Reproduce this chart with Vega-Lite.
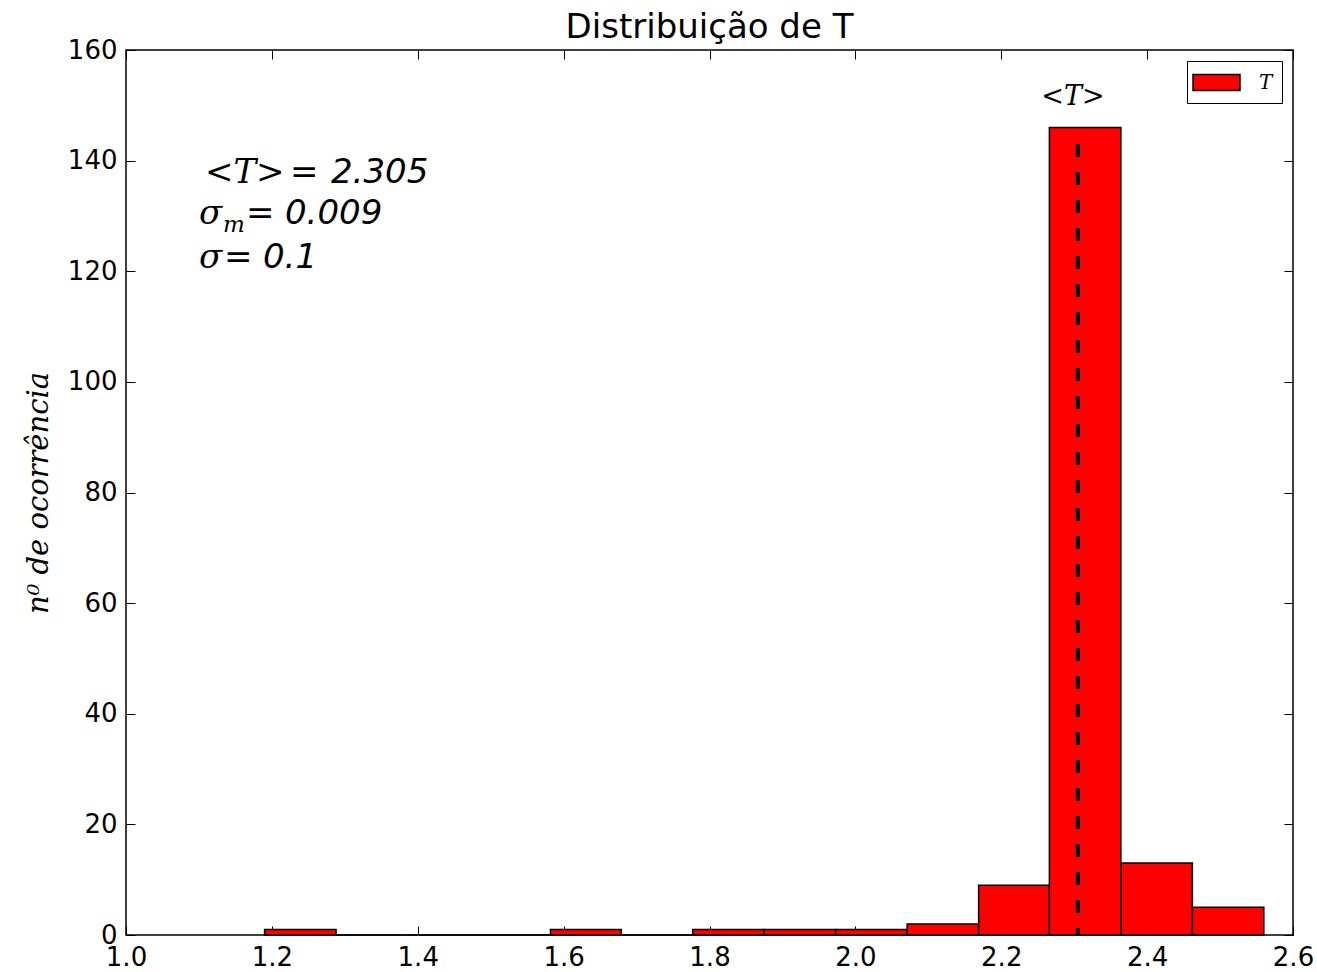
{
  "$schema": "https://vega.github.io/schema/vega-lite/v6.json",
  "width": 1167,
  "height": 885,
  "autosize": "none",
  "padding": {"left": 126, "top": 50, "right": 24, "bottom": 37},
  "background": "white",
  "title": {"text": "Distribuição de T", "font": "DejaVu Sans", "fontSize": 34, "fontWeight": "normal", "color": "black", "offset": 10, "dy": 18, "anchor": "middle"},
  "config": {
    "view": {"stroke": "black", "strokeWidth": 1.5},
    "axis": {"domain": false, "grid": false, "ticks": true, "tickColor": "black", "tickWidth": 1, "tickSize": -9, "labelFont": "DejaVu Sans", "labelFontSize": 26, "labelColor": "black", "zindex": 1, "labelPadding": 18, "labelFlush": false}
  },
  "datasets": {
    "bins": [
      {"bin_start": 1.190, "bin_end": 1.288, "count": 1},
      {"bin_start": 1.288, "bin_end": 1.386, "count": 0},
      {"bin_start": 1.386, "bin_end": 1.484, "count": 0},
      {"bin_start": 1.484, "bin_end": 1.582, "count": 0},
      {"bin_start": 1.582, "bin_end": 1.679, "count": 1},
      {"bin_start": 1.679, "bin_end": 1.777, "count": 0},
      {"bin_start": 1.777, "bin_end": 1.875, "count": 1},
      {"bin_start": 1.875, "bin_end": 1.973, "count": 1},
      {"bin_start": 1.973, "bin_end": 2.071, "count": 1},
      {"bin_start": 2.071, "bin_end": 2.169, "count": 2},
      {"bin_start": 2.169, "bin_end": 2.266, "count": 9},
      {"bin_start": 2.266, "bin_end": 2.364, "count": 146},
      {"bin_start": 2.364, "bin_end": 2.462, "count": 13},
      {"bin_start": 2.462, "bin_end": 2.560, "count": 5}
    ],
    "one": [{}]
  },
  "layer": [
    {
      "data": {"name": "bins"},
      "mark": {"type": "bar", "stroke": "black", "strokeWidth": 1.5, "opacity": 1},
      "encoding": {
        "x": {"field": "bin_start", "type": "quantitative", "scale": {"domain": [1.0, 2.6], "nice": false, "zero": false},
              "axis": {"orient": "bottom", "title": null, "values": [1.0, 1.2, 1.4, 1.6, 1.8, 2.0, 2.2, 2.4, 2.6], "format": ".1f"}},
        "x2": {"field": "bin_end"},
        "y": {"field": "count", "type": "quantitative", "scale": {"domain": [0, 160], "nice": false},
              "axis": {"orient": "left", "values": [0, 20, 40, 60, 80, 100, 120, 140, 160], "title": "n⁰ de ocorrência", "titleFont": "DejaVu Serif", "titleFontStyle": "italic", "titleFontWeight": "normal", "titleFontSize": 29, "titleColor": "black", "titlePadding": 14}},
        "y2": {"datum": 0},
        "color": {"datum": "T", "scale": {"range": ["#ff0000"]},
                  "legend": {"title": null, "orient": "top-right", "offset": 11, "padding": 9, "strokeColor": "black", "fillColor": "white", "cornerRadius": 0,
                             "symbolType": "M-2,-0.68H2V0.68H-2Z", "symbolSize": 552, "symbolStrokeColor": "black", "symbolStrokeWidth": 1.5, "symbolOpacity": 1, "symbolOffset": 8,
                             "labelOffset": 30, "labelFont": "DejaVu Serif", "labelFontStyle": "italic", "labelFontSize": 20, "labelColor": "black"}}
      }
    },
    {
      "data": {"name": "one"},
      "mark": {"type": "rule", "color": "black", "strokeWidth": 4, "strokeDash": [13, 15]},
      "encoding": {
        "x": {"datum": 2.305, "type": "quantitative", "axis": {"orient": "top", "labels": false, "title": null, "values": [1.0, 1.2, 1.4, 1.6, 1.8, 2.0, 2.2, 2.4, 2.6]}},
        "y": {"datum": 143, "type": "quantitative", "axis": {"orient": "right", "labels": false, "title": null, "values": [0, 20, 40, 60, 80, 100, 120, 140, 160]}},
        "y2": {"datum": 0}
      }
    },
    {
      "data": {"name": "one"},
      "mark": {"type": "text", "text": "<T>", "font": "DejaVu Serif", "fontStyle": "italic", "fontSize": 27, "align": "left", "baseline": "alphabetic", "color": "black"},
      "encoding": {"x": {"datum": 2.255, "type": "quantitative", "axis": null}, "y": {"datum": 150, "type": "quantitative", "axis": null}}
    },
    {
      "data": {"name": "one"},
      "mark": {"type": "text", "text": "<T>", "font": "DejaVu Serif", "fontStyle": "italic", "fontSize": 34, "align": "left", "baseline": "alphabetic", "color": "black", "dx": 6},
      "encoding": {"x": {"datum": 1.1, "type": "quantitative", "axis": null}, "y": {"datum": 136, "type": "quantitative", "axis": null}}
    },
    {
      "data": {"name": "one"},
      "mark": {"type": "text", "text": "=", "font": "DejaVu Serif", "fontSize": 34, "align": "left", "baseline": "alphabetic", "color": "black", "dx": 91},
      "encoding": {"x": {"datum": 1.1, "type": "quantitative", "axis": null}, "y": {"datum": 136, "type": "quantitative", "axis": null}}
    },
    {
      "data": {"name": "one"},
      "mark": {"type": "text", "text": "2.305", "font": "DejaVu Sans", "fontStyle": "italic", "fontSize": 34, "align": "left", "baseline": "alphabetic", "color": "black", "dx": 132},
      "encoding": {"x": {"datum": 1.1, "type": "quantitative", "axis": null}, "y": {"datum": 136, "type": "quantitative", "axis": null}}
    },
    {
      "data": {"name": "one"},
      "mark": {"type": "text", "text": "σ", "font": "DejaVu Serif", "fontStyle": "italic", "fontSize": 34, "align": "left", "baseline": "alphabetic", "color": "black", "dx": 0},
      "encoding": {"x": {"datum": 1.1, "type": "quantitative", "axis": null}, "y": {"datum": 128.6, "type": "quantitative", "axis": null}}
    },
    {
      "data": {"name": "one"},
      "mark": {"type": "text", "text": "m", "font": "DejaVu Serif", "fontStyle": "italic", "fontSize": 23, "align": "left", "baseline": "alphabetic", "color": "black", "dx": 24, "dy": 8},
      "encoding": {"x": {"datum": 1.1, "type": "quantitative", "axis": null}, "y": {"datum": 128.6, "type": "quantitative", "axis": null}}
    },
    {
      "data": {"name": "one"},
      "mark": {"type": "text", "text": "=", "font": "DejaVu Serif", "fontSize": 34, "align": "left", "baseline": "alphabetic", "color": "black", "dx": 47},
      "encoding": {"x": {"datum": 1.1, "type": "quantitative", "axis": null}, "y": {"datum": 128.6, "type": "quantitative", "axis": null}}
    },
    {
      "data": {"name": "one"},
      "mark": {"type": "text", "text": "0.009", "font": "DejaVu Sans", "fontStyle": "italic", "fontSize": 34, "align": "left", "baseline": "alphabetic", "color": "black", "dx": 86},
      "encoding": {"x": {"datum": 1.1, "type": "quantitative", "axis": null}, "y": {"datum": 128.6, "type": "quantitative", "axis": null}}
    },
    {
      "data": {"name": "one"},
      "mark": {"type": "text", "text": "σ", "font": "DejaVu Serif", "fontStyle": "italic", "fontSize": 34, "align": "left", "baseline": "alphabetic", "color": "black", "dx": 0},
      "encoding": {"x": {"datum": 1.1, "type": "quantitative", "axis": null}, "y": {"datum": 120.5, "type": "quantitative", "axis": null}}
    },
    {
      "data": {"name": "one"},
      "mark": {"type": "text", "text": "=", "font": "DejaVu Serif", "fontSize": 34, "align": "left", "baseline": "alphabetic", "color": "black", "dx": 25},
      "encoding": {"x": {"datum": 1.1, "type": "quantitative", "axis": null}, "y": {"datum": 120.5, "type": "quantitative", "axis": null}}
    },
    {
      "data": {"name": "one"},
      "mark": {"type": "text", "text": "0.1", "font": "DejaVu Sans", "fontStyle": "italic", "fontSize": 34, "align": "left", "baseline": "alphabetic", "color": "black", "dx": 64},
      "encoding": {"x": {"datum": 1.1, "type": "quantitative", "axis": null}, "y": {"datum": 120.5, "type": "quantitative", "axis": null}}
    }
  ],
  "resolve": {"axis": {"x": "independent", "y": "independent"}}
}
